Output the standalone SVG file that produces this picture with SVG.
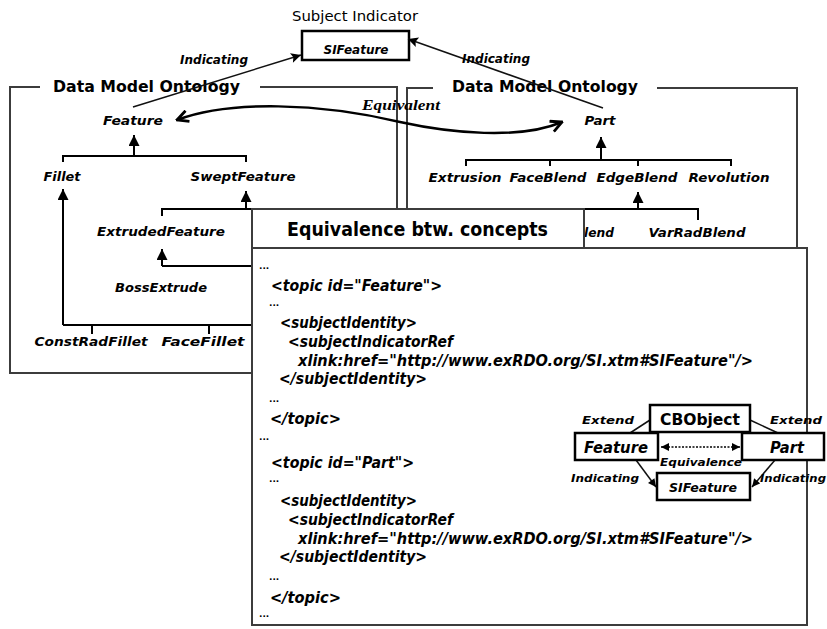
<svg xmlns="http://www.w3.org/2000/svg" width="827" height="629" viewBox="0 0 827 629">
  <style>
    .frame{fill:none;stroke:#3c3c3c;stroke-width:2}
    .tree{fill:none;stroke:#000;stroke-width:2}
    .thin{fill:none;stroke:#111;stroke-width:1.5}
    .box{fill:#fff;stroke:#000;stroke-width:2.5}
    .lbl{font-family:"DejaVu Sans",Verdana,sans-serif;font-weight:bold;font-style:italic;font-size:12px;fill:#000;text-anchor:middle}
    .ttl{font-family:"DejaVu Sans",Verdana,sans-serif;font-weight:bold;font-size:16px;fill:#000}
    .code{font-family:"DejaVu Sans",Verdana,sans-serif;font-weight:bold;font-style:italic;font-size:15px;fill:#000}
    .dots{font-family:"DejaVu Sans",Verdana,sans-serif;font-weight:bold;font-size:9px;fill:#000}
    .small{font-family:"DejaVu Sans",Verdana,sans-serif;font-weight:bold;font-style:italic;font-size:10px;fill:#000}
  </style>
  <defs>
    <marker id="head" viewBox="0 0 10 10" refX="10" refY="5" markerWidth="12" markerHeight="11" markerUnits="userSpaceOnUse" orient="auto">
      <path d="M0,0 L10,5 L0,10 z" fill="#000"/>
    </marker>
    <marker id="ind" viewBox="0 0 10 10" refX="10" refY="5" markerWidth="14" markerHeight="10" markerUnits="userSpaceOnUse" orient="auto">
      <path d="M0,0 L10,5 L0,10 L2,5 z" fill="#000"/>
    </marker>
    <marker id="open" viewBox="0 0 10 10" refX="9" refY="5" markerWidth="14" markerHeight="14" markerUnits="userSpaceOnUse" orient="auto-start-reverse">
      <path d="M1,1 L9,5 L1,9" fill="none" stroke="#000" stroke-width="2"/>
    </marker>
    <marker id="sm" viewBox="0 0 10 10" refX="10" refY="5" markerWidth="9" markerHeight="8" markerUnits="userSpaceOnUse" orient="auto-start-reverse">
      <path d="M0,0 L10,5 L0,10 z" fill="#000"/>
    </marker>
  </defs>

  <!-- ontology frames -->
  <g id="frame-left">
    <path class="frame" d="M40,87 H10 V373 H252 M260,87 H397 V209"/>
    <text class="ttl" x="53" y="92" textLength="187" lengthAdjust="spacingAndGlyphs">Data Model Ontology</text>
  </g>
  <g id="frame-right">
    <path class="frame" d="M433,88 H407 V209 M657,88 H797 V248"/>
    <text class="ttl" x="452" y="92" textLength="186" lengthAdjust="spacingAndGlyphs">Data Model Ontology</text>
  </g>

  <!-- subject indicator -->
  <g id="subject-indicator">
    <text x="355" y="21" text-anchor="middle" font-family="DejaVu Sans, Verdana, sans-serif" font-size="14" textLength="126" lengthAdjust="spacingAndGlyphs">Subject Indicator</text>
    <rect class="box" x="302" y="31" width="107" height="29"/>
    <text class="lbl" x="356" y="54" textLength="65" lengthAdjust="spacingAndGlyphs">SIFeature</text>
  </g>

  <!-- left hierarchy -->
  <g id="n-feature"><text class="lbl" x="133" y="125" textLength="60" lengthAdjust="spacingAndGlyphs">Feature</text></g>
  <g id="n-fillet"><text class="lbl" x="62" y="181" textLength="37" lengthAdjust="spacingAndGlyphs">Fillet</text></g>
  <g id="n-sweptfeature"><text class="lbl" x="243" y="181" textLength="105" lengthAdjust="spacingAndGlyphs">SweptFeature</text></g>
  <g id="n-extrudedfeature"><text class="lbl" x="161" y="236" textLength="128" lengthAdjust="spacingAndGlyphs">ExtrudedFeature</text></g>
  <g id="n-bossextrude"><text class="lbl" x="161" y="292" textLength="92" lengthAdjust="spacingAndGlyphs">BossExtrude</text></g>
  <g id="n-constradfillet"><text class="lbl" x="91" y="346" textLength="113" lengthAdjust="spacingAndGlyphs">ConstRadFillet</text></g>
  <g id="n-facefillet"><text class="lbl" x="203" y="346" textLength="83" lengthAdjust="spacingAndGlyphs">FaceFillet</text></g>

  <!-- right hierarchy -->
  <g id="n-part"><text class="lbl" x="600" y="125" textLength="31" lengthAdjust="spacingAndGlyphs">Part</text></g>
  <g id="n-extrusion"><text class="lbl" x="465" y="182" textLength="73" lengthAdjust="spacingAndGlyphs">Extrusion</text></g>
  <g id="n-faceblend"><text class="lbl" x="548" y="182" textLength="77" lengthAdjust="spacingAndGlyphs">FaceBlend</text></g>
  <g id="n-edgeblend"><text class="lbl" x="637" y="182" textLength="81" lengthAdjust="spacingAndGlyphs">EdgeBlend</text></g>
  <g id="n-revolution"><text class="lbl" x="729" y="182" textLength="81" lengthAdjust="spacingAndGlyphs">Revolution</text></g>
  <g id="n-blend"><text class="lbl" x="599" y="237" textLength="30" lengthAdjust="spacingAndGlyphs">lend</text></g>
  <g id="n-varradblend"><text class="lbl" x="697" y="237" textLength="97" lengthAdjust="spacingAndGlyphs">VarRadBlend</text></g>

  <!-- connectors -->
  <g id="connectors">
    <!-- left tree -->
    <path class="tree" d="M63,162 V156 H246 V162"/>
    <line class="tree" x1="134" y1="156" x2="134" y2="135" marker-end="url(#head)"/>
    <line class="tree" x1="63" y1="325" x2="63" y2="189" marker-end="url(#head)"/>
    <path class="tree" d="M63,325 H252 M92,325 V334 M209,325 V334"/>
    <path class="tree" d="M162,216 V209 H252"/>
    <line class="tree" x1="246" y1="209" x2="246" y2="191" marker-end="url(#head)"/>
    <path class="tree" d="M162,266 H252"/>
    <line class="tree" x1="162" y1="266" x2="162" y2="249" marker-end="url(#head)"/>
    <!-- right tree -->
    <path class="tree" d="M466,166 V160 H731 V166 M550,160 V166 M638,160 V166"/>
    <line class="tree" x1="601" y1="160" x2="601" y2="137" marker-end="url(#head)"/>
    <path class="tree" d="M560,209 H698 V220"/>
    <line class="tree" x1="638" y1="209" x2="638" y2="192" marker-end="url(#head)"/>
    <!-- indicating links -->
    <line class="thin" x1="133" y1="107" x2="301" y2="55" marker-end="url(#ind)"/>
    <text class="lbl" x="214" y="64" textLength="68" lengthAdjust="spacingAndGlyphs">Indicating</text>
    <line class="thin" x1="603" y1="108" x2="408" y2="39" marker-end="url(#ind)"/>
    <text class="lbl" x="496" y="63" textLength="68" lengthAdjust="spacingAndGlyphs">Indicating</text>
    <!-- equivalence between Feature and Part -->
    <path d="M177,120 C230,100 320,103 400,122 C450,133 520,140 562,122" fill="none" stroke="#000" stroke-width="2.5" marker-start="url(#open)" marker-end="url(#open)"/>
    <text x="362" y="110" font-family="Liberation Serif, serif" font-weight="bold" font-style="italic" font-size="15" textLength="78" lengthAdjust="spacingAndGlyphs">Equivalent</text>
  </g>

  <!-- code panel -->
  <g id="panel">
    <rect x="252" y="209" width="332" height="39" fill="#fff" stroke="#3c3c3c" stroke-width="2"/>
    <text x="287" y="236" font-family="DejaVu Sans, Verdana, sans-serif" font-weight="bold" font-size="19" textLength="261" lengthAdjust="spacingAndGlyphs">Equivalence btw. concepts</text>
    <rect x="252" y="248" width="555" height="377" fill="#fff" stroke="#3c3c3c" stroke-width="2"/>
    <text class="dots" x="259" y="269">...</text>
    <text class="code" x="271" y="291" textLength="171" lengthAdjust="spacingAndGlyphs">&lt;topic id="Feature"&gt;</text>
    <text class="dots" x="269" y="306">...</text>
    <text class="code" x="280" y="328" textLength="137" lengthAdjust="spacingAndGlyphs">&lt;subjectIdentity&gt;</text>
    <text class="code" x="288" y="347" textLength="165" lengthAdjust="spacingAndGlyphs">&lt;subjectIndicatorRef</text>
    <text class="code" x="298" y="366" textLength="455" lengthAdjust="spacingAndGlyphs">xlink:href="http://www.exRDO.org/SI.xtm#SIFeature"/&gt;</text>
    <text class="code" x="279" y="384" textLength="148" lengthAdjust="spacingAndGlyphs">&lt;/subjectIdentity&gt;</text>
    <text class="dots" x="269" y="402">...</text>
    <text class="code" x="270" y="424" textLength="71" lengthAdjust="spacingAndGlyphs">&lt;/topic&gt;</text>
    <text class="dots" x="259" y="440">...</text>
    <text class="code" x="271" y="468" textLength="143" lengthAdjust="spacingAndGlyphs">&lt;topic id="Part"&gt;</text>
    <text class="dots" x="269" y="482">...</text>
    <text class="code" x="280" y="506" textLength="137" lengthAdjust="spacingAndGlyphs">&lt;subjectIdentity&gt;</text>
    <text class="code" x="288" y="525" textLength="165" lengthAdjust="spacingAndGlyphs">&lt;subjectIndicatorRef</text>
    <text class="code" x="298" y="544" textLength="455" lengthAdjust="spacingAndGlyphs">xlink:href="http://www.exRDO.org/SI.xtm#SIFeature"/&gt;</text>
    <text class="code" x="279" y="562" textLength="148" lengthAdjust="spacingAndGlyphs">&lt;/subjectIdentity&gt;</text>
    <text class="dots" x="269" y="580">...</text>
    <text class="code" x="270" y="603" textLength="71" lengthAdjust="spacingAndGlyphs">&lt;/topic&gt;</text>
    <text class="dots" x="259" y="617">...</text>
  </g>

  <!-- summary sketch -->
  <g id="mini-links">
    <path class="thin" d="M630,433 L650,420"/>
    <text class="small" x="582" y="424" textLength="52" lengthAdjust="spacingAndGlyphs">Extend</text>
    <path class="thin" d="M750,420 L778,433"/>
    <text class="small" x="770" y="424" textLength="52" lengthAdjust="spacingAndGlyphs">Extend</text>
    <line x1="661" y1="447" x2="740" y2="447" stroke="#000" stroke-width="1.5" stroke-dasharray="2,1.5" marker-start="url(#sm)" marker-end="url(#sm)"/>
    <text class="small" x="660" y="466" textLength="82" lengthAdjust="spacingAndGlyphs">Equivalence</text>
    <line class="thin" x1="636" y1="460" x2="656" y2="487" marker-end="url(#sm)"/>
    <text class="small" x="571" y="482" textLength="68" lengthAdjust="spacingAndGlyphs">Indicating</text>
    <line class="thin" x1="775" y1="460" x2="752" y2="487" marker-end="url(#sm)"/>
    <text class="small" x="760" y="482" textLength="66" lengthAdjust="spacingAndGlyphs">Indicating</text>
  </g>
  <g id="mini-cbobject">
    <rect class="box" x="650" y="405" width="100" height="27"/>
    <text x="700" y="425" text-anchor="middle" font-family="DejaVu Sans, Verdana, sans-serif" font-weight="bold" font-size="15" textLength="80" lengthAdjust="spacingAndGlyphs">CBObject</text>
  </g>
  <g id="mini-feature">
    <rect class="box" x="575" y="433" width="83" height="27"/>
    <text class="lbl" x="616" y="453" style="font-size:15px" textLength="64" lengthAdjust="spacingAndGlyphs">Feature</text>
  </g>
  <g id="mini-part">
    <rect class="box" x="742" y="433" width="82" height="27"/>
    <text class="lbl" x="787" y="453" style="font-size:15px" textLength="34" lengthAdjust="spacingAndGlyphs">Part</text>
  </g>
  <g id="mini-sifeature">
    <rect class="box" x="657" y="473" width="93" height="27"/>
    <text class="lbl" x="703" y="492" style="font-size:13px" textLength="68" lengthAdjust="spacingAndGlyphs">SIFeature</text>
  </g>
</svg>
